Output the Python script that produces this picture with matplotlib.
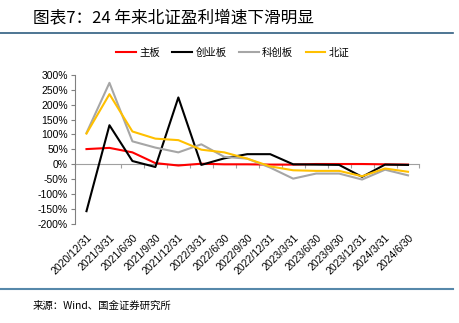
import matplotlib
matplotlib.use('Agg')
from matplotlib import pyplot as plt
from matplotlib.ticker import FuncFormatter

plt.rcParams['font.family'] = ['Noto Sans CJK SC', 'DejaVu Sans']

# Quarter-end dates
dates = ['2020/12/31', '2021/3/31', '2021/6/30', '2021/9/30', '2021/12/31',
         '2022/3/31', '2022/6/30', '2022/9/30', '2022/12/31', '2023/3/31',
         '2023/6/30', '2023/9/30', '2023/12/31', '2024/3/31', '2024/6/30']

# Profit growth (%) by board
main_board = [51, 55, 40, 4, -4, 2, 0, 0, -1, -1, 1, 1, 1, 0, -1]
chinext = [-157, 131, 11, -9, 224, -2, 20, 34, 34, 0, -1, -2, -42, -1, -2]
star = [105, 273, 77, 56, 40, 67, 25, 19, -11, -48, -31, -31, -51, -18, -37]
bse = [103, 235, 110, 86, 81, 49, 40, 19, -7, -20, -22, -22, -40, -14, -25]

series = [('主板', main_board, '#FF0000'),
          ('创业板', chinext, '#000000'),
          ('科创板', star, '#A6A6A6'),
          ('北证', bse, '#FFC000')]

fig = plt.figure(figsize=(4.59, 3.23), dpi=100)

# Title and rules
fig.text(0.072, 0.945, '图表7：24 年来北证盈利增速下滑明显', fontsize=12,
         style='italic', va='center', ha='left')
fig.add_artist(plt.Line2D([0, 0.987], [0.898, 0.898], color='#2F5D80', lw=1.2))
fig.add_artist(plt.Line2D([0, 0.987], [0.105, 0.105], color='#5688AA', lw=1.5))
fig.text(0.07, 0.052, '来源：Wind、国金证券研究所', fontsize=7.5, va='center', ha='left')

ax = fig.add_axes([0.1634, 0.3065, 0.7505, 0.462])
x = list(range(len(dates)))
for name, vals, col in series:
    ax.plot(x, vals, color=col, lw=1.5, label=name)

ax.set_xlim(-0.5, len(dates) - 0.5)
ax.set_ylim(-200, 300)
ax.set_yticks(range(-200, 301, 50))
ax.yaxis.set_major_formatter(FuncFormatter(lambda v, p: f'{v:.0f}%'))
ax.tick_params(axis='y', labelsize=7.5, length=3, color='#808080', pad=2)

ax.set_xticks(x)
ax.set_xticklabels(dates, rotation=45, ha='right', rotation_mode='anchor', fontsize=7.5)
ax.tick_params(axis='x', length=0, pad=6)
for lab in ax.get_xticklabels() + ax.get_yticklabels():
    lab.set_fontfamily(['Liberation Sans', 'DejaVu Sans'])

for s in ['top', 'right', 'bottom']:
    ax.spines[s].set_visible(False)
ax.spines['left'].set_color('#808080')

# Zero axis with ticks between categories
sec = ax.secondary_xaxis(0.4)
sec.set_xticks([i - 0.5 for i in range(len(dates) + 1)])
sec.tick_params(axis='x', length=3, color='#A0A0A0', labelbottom=False)
sec.spines['bottom'].set_color('#A0A0A0')

ax.legend(loc='center', bbox_to_anchor=(0.507, 0.836), bbox_transform=fig.transFigure,
          ncol=4, frameon=False, fontsize=7.5, handlelength=1.9, columnspacing=1.2,
          handletextpad=0.3)

fig.savefig('out.png', dpi=100)
